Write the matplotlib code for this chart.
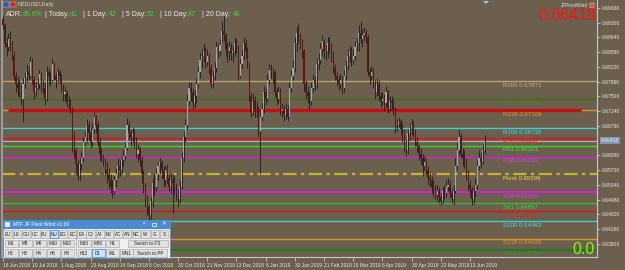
import numpy as np
import matplotlib.pyplot as plt
from matplotlib.patches import Rectangle, Polygon

plt.rcParams['font.family'] = ['Liberation Sans', 'DejaVu Sans']

# ----------------------------------------------------
# Data (NZDUSD daily, prices in pips = price * 10000)
# ----------------------------------------------------
first_open = 6940
close_pips = [
    6925, 6880, 6870, 6890, 6878, 6850, 6800, 6780, 6770, 6770,
    6745, 6780, 6795, 6810, 6800, 6835, 6790, 6760, 6770, 6780,
    6805, 6775, 6770, 6745, 6810, 6800, 6790, 6830, 6800, 6790,
    6810, 6800, 6770, 6755, 6760, 6735, 6735, 6720, 6660, 6620,
    6585, 6555, 6585, 6600, 6640, 6650, 6680, 6660, 6640, 6670,
    6700, 6680, 6640, 6610, 6605, 6590, 6570, 6560, 6545, 6530,
    6520, 6545, 6560, 6580, 6570, 6595, 6605, 6625, 6680, 6660,
    6650, 6660, 6640, 6610, 6620, 6595, 6560, 6530, 6490, 6480,
    6460, 6495, 6540, 6530, 6560, 6580, 6590, 6570, 6545, 6570,
    6550, 6530, 6545, 6540, 6525, 6510, 6500, 6530, 6600, 6650,
    6680, 6740, 6770, 6760, 6735, 6750, 6780, 6810, 6840, 6850,
    6860, 6835, 6850, 6820, 6780, 6800, 6820, 6870, 6860, 6875,
    6910, 6900, 6865, 6860, 6870, 6855, 6860, 6880, 6870, 6800,
    6830, 6850, 6880, 6860, 6830, 6750, 6710, 6740, 6720, 6720,
    6665, 6700, 6720, 6760, 6745, 6790, 6815, 6810, 6810, 6760,
    6745, 6760, 6715, 6720, 6705, 6720, 6700, 6770, 6800, 6820,
    6880, 6905, 6900, 6880, 6860, 6780, 6760, 6750, 6740, 6770,
    6790, 6780, 6830, 6840, 6865, 6885, 6860, 6860, 6880, 6875,
    6850, 6820, 6800, 6790, 6780, 6790, 6770, 6800, 6825, 6850,
    6860, 6840, 6850, 6870, 6880, 6905, 6890, 6900, 6905, 6895,
    6810, 6800, 6810, 6780, 6760, 6780, 6750, 6740, 6745, 6735,
    6760, 6720, 6740, 6735, 6720, 6680, 6680, 6690, 6670, 6660,
    6630, 6620, 6660, 6670, 6680, 6660, 6640, 6630, 6610, 6600,
    6580, 6590, 6570, 6550, 6545, 6530, 6520, 6510, 6520, 6505,
    6495, 6520, 6515, 6530, 6535, 6515, 6500, 6520, 6580, 6620,
    6650, 6610, 6600, 6590, 6560, 6535, 6525, 6500, 6520, 6535,
    6580, 6600, 6590, 6620, 6642,
]
high_pips = [
    6948, 6930, 6895, 6905, 6910, 6885, 6860, 6810, 6800, 6790,
    6780, 6795, 6810, 6830, 6825, 6850, 6845, 6800, 6785, 6795,
    6815, 6810, 6790, 6785, 6825, 6820, 6810, 6845, 6835, 6810,
    6820, 6815, 6805, 6780, 6775, 6765, 6750, 6745, 6725, 6665,
    6625, 6595, 6600, 6615, 6650, 6665, 6695, 6690, 6675, 6685,
    6712, 6705, 6690, 6650, 6625, 6610, 6600, 6590, 6575, 6560,
    6545, 6555, 6575, 6600, 6595, 6605, 6620, 6640, 6698, 6690,
    6670, 6675, 6670, 6650, 6635, 6630, 6605, 6570, 6540, 6510,
    6490, 6505, 6550, 6560, 6575, 6590, 6600, 6595, 6580, 6580,
    6585, 6560, 6560, 6560, 6555, 6540, 6525, 6545, 6615, 6665,
    6695, 6755, 6785, 6785, 6770, 6765, 6795, 6825, 6855, 6865,
    6880, 6870, 6865, 6855, 6830, 6815, 6835, 6885, 6880, 6890,
    6935, 6950, 6905, 6880, 6885, 6880, 6875, 6895, 6890, 6875,
    6845, 6865, 6895, 6890, 6870, 6835, 6760, 6755, 6750, 6740,
    6725, 6720, 6735, 6775, 6770, 6805, 6830, 6830, 6820, 6815,
    6770, 6775, 6770, 6735, 6730, 6735, 6730, 6785, 6815, 6840,
    6895, 6920, 6930, 6905, 6890, 6865, 6790, 6775, 6760, 6785,
    6805, 6800, 6845, 6855, 6880, 6900, 6890, 6875, 6895, 6895,
    6880, 6860, 6830, 6810, 6800, 6805, 6800, 6815, 6840, 6865,
    6875, 6870, 6865, 6885, 6895, 6925, 6935, 6915, 6920, 6915,
    6900, 6820, 6825, 6820, 6790, 6795, 6790, 6760, 6760, 6755,
    6775, 6765, 6750, 6750, 6745, 6725, 6695, 6700, 6695, 6685,
    6670, 6645, 6670, 6685, 6695, 6690, 6670, 6650, 6635, 6625,
    6610, 6605, 6600, 6580, 6565, 6555, 6545, 6535, 6535, 6530,
    6515, 6530, 6535, 6545, 6550, 6545, 6525, 6535, 6600, 6640,
    6670, 6660, 6625, 6620, 6600, 6570, 6545, 6530, 6535, 6550,
    6595, 6620, 6615, 6635, 6655,
]
low_pips = [
    6915, 6870, 6850, 6860, 6860, 6840, 6790, 6760, 6750, 6748,
    6730, 6688, 6770, 6785, 6790, 6795, 6780, 6745, 6750, 6765,
    6770, 6760, 6755, 6730, 6740, 6780, 6775, 6785, 6790, 6770,
    6785, 6780, 6760, 6740, 6740, 6725, 6720, 6710, 6615, 6600,
    6565, 6545, 6545, 6570, 6590, 6630, 6640, 6645, 6625, 6630,
    6660, 6660, 6630, 6595, 6590, 6580, 6555, 6540, 6525, 6515,
    6502, 6510, 6530, 6550, 6555, 6560, 6580, 6595, 6620, 6645,
    6630, 6640, 6625, 6600, 6590, 6580, 6540, 6515, 6480, 6460,
    6424, 6440, 6480, 6510, 6520, 6545, 6560, 6550, 6530, 6535,
    6540, 6520, 6515, 6466, 6510, 6495, 6480, 6490, 6525, 6590,
    6640, 6670, 6730, 6740, 6720, 6725, 6735, 6770, 6795, 6820,
    6835, 6820, 6825, 6805, 6770, 6770, 6790, 6810, 6845, 6850,
    6880, 6885, 6850, 6835, 6840, 6840, 6835, 6850, 6855, 6790,
    6795, 6820, 6840, 6845, 6820, 6740, 6700, 6705, 6700, 6700,
    6650, 6560, 6690, 6710, 6730, 6740, 6780, 6795, 6780, 6750,
    6730, 6735, 6705, 6700, 6690, 6695, 6690, 6700, 6760, 6790,
    6810, 6860, 6880, 6865, 6845, 6760, 6745, 6735, 6720, 6730,
    6760, 6765, 6770, 6815, 6830, 6850, 6845, 6840, 6845, 6855,
    6835, 6810, 6790, 6775, 6765, 6770, 6755, 6760, 6790, 6815,
    6835, 6825, 6830, 6840, 6860, 6860, 6880, 6870, 6885, 6880,
    6800, 6780, 6790, 6770, 6745, 6750, 6740, 6725, 6730, 6715,
    6725, 6710, 6715, 6720, 6705, 6660, 6665, 6675, 6655, 6640,
    6615, 6605, 6610, 6645, 6655, 6650, 6630, 6615, 6595, 6585,
    6555, 6570, 6560, 6535, 6530, 6515, 6505, 6500, 6495, 6490,
    6485, 6490, 6500, 6505, 6520, 6505, 6490, 6485, 6515, 6570,
    6605, 6600, 6580, 6575, 6545, 6520, 6505, 6485, 6488, 6505,
    6525, 6570, 6575, 6585, 6610,
]

date_ticks = [0, 16, 32, 48, 64, 80, 96, 112, 128, 144, 160, 176, 192, 208, 224, 240, 256]
date_labels = ["18 Jun 2018", "10 Jul 2018", "1 Aug 2018", "23 Aug 2018", "14 Sep 2018",
               "8 Oct 2018", "30 Oct 2018", "21 Nov 2018", "13 Dec 2018", "8 Jan 2019",
               "30 Jan 2019", "21 Feb 2019", "15 Mar 2019", "8 Apr 2019", "30 Apr 2019",
               "22 May 2019", "13 Jun 2019"]

price_ticks = [0.63900, 0.64260, 0.64620, 0.64980, 0.65340, 0.65700, 0.66060,
               0.66780, 0.67140, 0.67500, 0.67860, 0.68220, 0.68580, 0.68940,
               0.69300, 0.69660]

level_names = ["R200", "R161", "R138", "R100", "R78", "R61", "R38", "Pivot",
               "S38", "S61", "S78", "S100", "S138", "S161"]
level_values = [0.67871, 0.67437, 0.67169, 0.66735, 0.66492, 0.66301, 0.66033, 0.65599,
                0.65165, 0.64897, 0.64706, 0.64463, 0.64029, 0.63761]
level_colors = ["#B3A36C", "#4E6A2C", "#D4962A", "#3FCFCF", "#E01414", "#2ED62E", "#CF22CF",
                "#C8B232", "#CF22CF", "#2EC42E", "#D41818", "#3FCFCF", "#D4962A", "#1F7A1F"]
label_colors = ["#C4B47C", "#5E7E2E", "#E09A2A", "#46E0E0", "#F02020", "#36E636", "#E040E0",
                "#E8E040", "#E040E0", "#36DC36", "#F02020", "#46E0E0", "#E09A2A", "#2E9E2E"]
level_widths = [1.0, 2.0, 1.0, 1.0, 1.0, 1.0, 1.0, 1.6, 1.6, 1.0, 1.0, 1.0, 1.0, 1.6]

bid_price = 0.66418
hline_price = 0.67160
adr_labels = ["ADR:", "| Today:", "| 1 Day:", "| 5 Day:", "| 10 Day:", "| 20 Day:"]
adr_values = ["86.6%", "41", "42", "52", "47", "48"]

# ----------------------------------------------------
# Build OHLC
# ----------------------------------------------------
close = np.array(close_pips) / 10000
high = np.array(high_pips) / 10000
low = np.array(low_pips) / 10000
open_ = np.concatenate([[first_open / 10000], close[:-1]])
idx = np.arange(len(close))

BG = "#6C5F4E"
W, H = 625, 270

fig = plt.figure(figsize=(6.25, 2.7), dpi=100)
fig.patch.set_facecolor(BG)

# main chart axes: px x 2..597, y 0..257
ax = fig.add_axes([2 / W, 13 / H, 595 / W, 257 / H])
ax.set_facecolor(BG)

px_per_bar = 1.824
ppy = 0.00024407
ax.set_xlim((2 - 3) / px_per_bar, (597 - 3) / px_per_bar)
ax.set_ylim(0.69660 - (257 - 8) * ppy, 0.69660 + 8 * ppy)

# ----------------------------------------------------
# Levels
# ----------------------------------------------------
for name, val, c, lc, lw in zip(level_names, level_values, level_colors, label_colors, level_widths):
    ls = (0, (6, 2, 1.5, 2)) if name == "Pivot" else "-"
    ax.axhline(val, color=c, lw=lw, ls=ls, zorder=1)
    ax.annotate(f"{name} {val:.5f}", xy=((503 - 3) / px_per_bar, val),
                xytext=(0, -1.2), textcoords="offset points",
                ha="left", va="top", fontsize=4.4, color=lc, zorder=5)

ax.axhline(bid_price, color="#B4B4B4", lw=0.8, zorder=1)
ax.plot([(8 - 3) / px_per_bar, (581 - 3) / px_per_bar], [hline_price, hline_price],
        color="#C41010", lw=2.4, solid_capstyle="butt", zorder=2)

# ----------------------------------------------------
# Candles
# ----------------------------------------------------
up = close >= open_
ax.vlines(idx, low, high, color="#1C1C1C", lw=0.6, zorder=3)
body_lo = np.minimum(open_, close)
body_h = np.maximum(np.abs(close - open_), 0.00004)
ax.bar(idx[up], body_h[up], bottom=body_lo[up], width=0.62, color="#A6A6A6", lw=0, zorder=4)
ax.bar(idx[~up], body_h[~up], bottom=body_lo[~up], width=0.62, color="#6A1212", lw=0, zorder=4)

# ----------------------------------------------------
# Axes styling
# ----------------------------------------------------
ax.spines["top"].set_visible(False)
ax.spines["left"].set_color("#9A9A9A")
ax.spines["right"].set_color("#C8C8C8")
ax.spines["bottom"].set_color("#C8C8C8")
ax.spines["left"].set_linewidth(1.5)

ax.yaxis.tick_right()
ax.set_yticks(price_ticks)
ax.set_yticklabels([f"{p:.5f}" for p in price_ticks])
ax.tick_params(axis="y", colors="#C8C8C8", labelcolor="#E6E6E6", labelsize=3.6,
               length=2.5, width=0.6, pad=1.2)
ax.set_xticks(date_ticks)
ax.set_xticklabels(date_labels)
ax.tick_params(axis="x", colors="#C8C8C8", labelcolor="#E6E6E6", labelsize=3.5,
               length=3, width=0.6, pad=1, direction="out")
for t in ax.get_xticklabels():
    t.set_ha("left")

# bid label on price axis
ax.annotate(f"{bid_price:.5f}", xy=(1, bid_price), xycoords=("axes fraction", "data"),
            xytext=(3, 0), textcoords="offset points", ha="left", va="center",
            fontsize=3.6, color="#F0F0F0",
            bbox=dict(boxstyle="square,pad=0.2", fc="#8095AE", ec="none"))

# ----------------------------------------------------
# Overlay (pixel coordinates)
# ----------------------------------------------------
ov = fig.add_axes([0, 0, 1, 1])
ov.set_xlim(0, W)
ov.set_ylim(H, 0)
ov.axis("off")
ov.patch.set_alpha(0)

# title with icons
ov.add_patch(Rectangle((3, 2), 6, 5, fc="#3050C0", ec="#D0D0D0", lw=0.3))
ov.add_patch(Rectangle((10, 2), 6, 5, fc="#C03030", ec="#D0D0D0", lw=0.3))
ov.text(18, 4.6, "NZDUSD,Daily", fontsize=4.0, color="#D8D8D8", va="center")

# ADR row
adr_label_x = [6, 45, 83, 122, 160, 202]
adr_value_x = [23, 70, 109, 147, 188, 233]
for lab, val, lx, vx in zip(adr_labels, adr_values, adr_label_x, adr_value_x):
    ov.text(lx, 14, lab, fontsize=5.0, color="#E8E8E8", va="center")
    ov.text(vx, 14, val, fontsize=5.0, color="#3CD23C", va="center")

# big price
ov.text(596, 15, f"{bid_price:.5f}", fontsize=11.5, color="#FF1010", ha="right", va="center")
ov.text(588, 5.5, "JFPivotWind", fontsize=3.4, color="#E0E0E0", ha="right", va="center")
ov.add_patch(Rectangle((590, 3), 4, 5, fc="#E05030", ec="#E0E0E0", lw=0.3))
# chart shift marker
ov.add_patch(Polygon([(483, 1), (489, 1), (486, 4)], closed=True, fc="#8EC8F0", ec="none"))

# bottom right zero
ov.text(595, 249, "0.0", fontsize=11.5, color="#7CFC00", ha="right", va="center")

# ----------------------------------------------------
# MTF JF Pivot Wind panel
# ----------------------------------------------------
ov.add_patch(Rectangle((3, 220), 167, 38, fc="#F0F0F0", ec="#4A8CD4", lw=0.6))
ov.add_patch(Rectangle((3, 220), 167, 8.5, fc="#4A8CD4", ec="none"))
ov.text(13, 224.3, "MTF JF Pivot Wind v1.00", fontsize=3.6, color="white", va="center")
ov.add_patch(Rectangle((4.5, 221.8), 5, 5, fc="#E8E8E8", ec="none"))
ov.text(144, 224.3, "^", fontsize=4, color="white", ha="center", va="center")
ov.add_patch(Rectangle((152, 222.5), 4, 3.6, fc="none", ec="white", lw=0.5))
ov.text(164, 224.3, "✕", fontsize=4, color="white", ha="center", va="center")


def button(cx, w, cy, text, selected=False):
    fc = "#CCE4F7" if selected else "#E1E1E1"
    ec = "#2A7AD0" if selected else "#ADADAD"
    ov.add_patch(Rectangle((cx - w / 2, cy - 3.8), w, 7.6, fc=fc, ec=ec, lw=0.5))
    ov.text(cx, cy + 0.2, text, fontsize=3.3, color="#202020", ha="center", va="center")


row1 = ["EU", "UJ", "GU", "UC", "AU", "NU", "EG", "EC", "EA", "CJ", "AJ", "NJ", "AC",
        "AN", "NC", "W", "G", "S"]
row1_x = [7.5, 16.8, 26.1, 35.4, 44.7, 54.0, 63.3, 72.6, 81.5, 90.6, 99.7, 108.8, 117.9,
          127.0, 136.1, 145.5, 154.7, 163.9]
for t, cx in zip(row1, row1_x):
    button(cx, 8.3, 234, t, selected=(t == "NU"))

row2 = ["M1", "M5", "M6", "M10", "M12", "M15", "M30", "H1", "Switch to FS"]
row2_x = [11, 25, 39, 53, 67, 84, 98, 112, 147.5]
row2_w = [13, 13, 13, 13, 13, 13, 13, 13, 40]
for t, cx, w in zip(row2, row2_x, row2_w):
    button(cx, w, 243.5, t)

row3 = ["H2", "H3", "H4", "H6", "H8", "H12", "D1", "W1", "MN1", "Switch to PP"]
row3_x = [11, 25, 39, 53, 67, 84, 98, 112, 126, 150]
row3_w = [13, 13, 13, 13, 13, 13, 13, 13, 13, 34]
for t, cx, w in zip(row3, row3_x, row3_w):
    button(cx, w, 253, t, selected=(t == "D1"))
ov.add_patch(Rectangle((76, 230), 0.6, 27, fc="#B0B0B0", ec="none"))

fig.savefig("out.png", dpi=100, facecolor=BG)
